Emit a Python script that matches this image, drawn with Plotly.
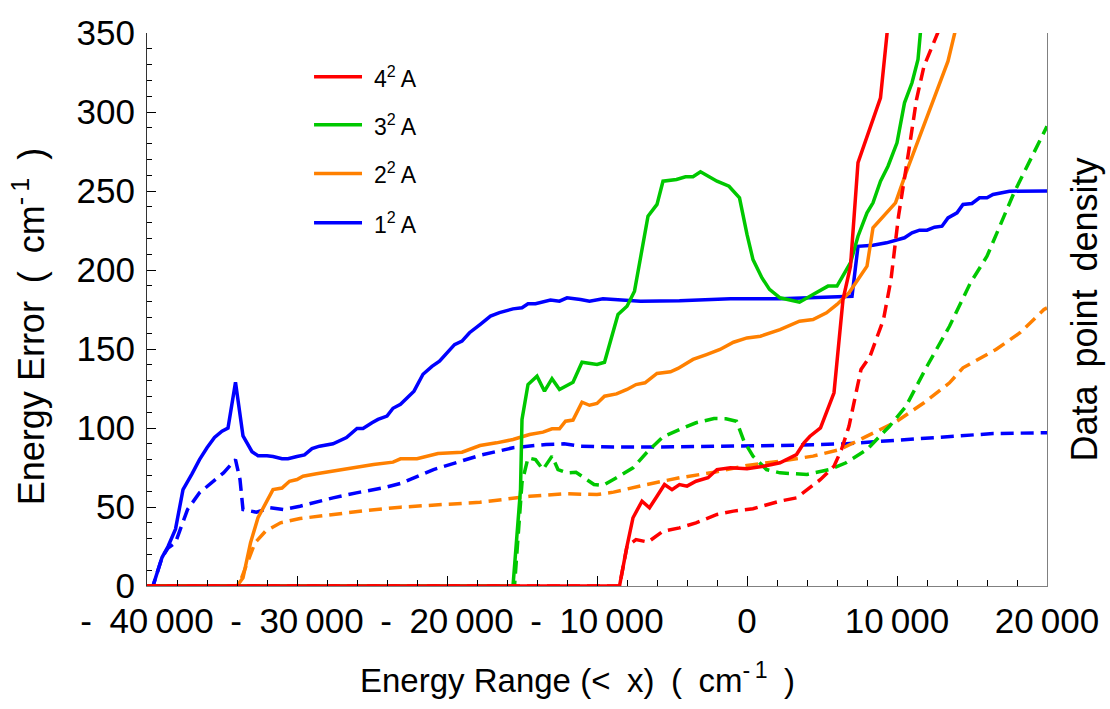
import plotly.graph_objects as go

# Energy error vs. cumulative energy range for the four 2A states.
# Solid lines: maximum error; dashed lines: mean error.

state_names = ["1<sup>2</sup> A", "2<sup>2</sup> A", "3<sup>2</sup> A", "4<sup>2</sup> A"]
state_colors = ["#0000FF", "#FF8000", "#00C800", "#FF0000"]

# 1 2A
s1_x = [-40000, -39600, -39000, -38600, -38100, -37600, -37000, -36500, -36000, -35500,
        -35000, -34600, -34100, -33600, -33000, -32600, -32000, -31600, -31000, -30600,
        -30000, -29500, -29000, -28500, -27600, -26700, -26000, -25600, -25000, -24600,
        -24000, -23600, -23100, -22800, -22200, -21600, -21000, -20500, -19900, -19500,
        -19000, -18500, -17800, -17100, -16500, -15600, -15000, -14600, -14100, -13100,
        -12500, -12000, -11100, -10500, -9600, -7100, -4500, -1100, 2200, 6200,
        7000, 7400, 8400, 9300, 10100, 10500, 11000, 11500, 12000, 12500,
        13000, 13400, 14000, 14400, 15000, 15500, 16000, 16400, 17500, 20000]
s1_max = [0, 0, 18, 25, 36, 61, 71, 80, 87.5, 94,
          98, 100, 129, 95, 85, 82.5, 82.5, 82, 80.5, 80.5,
          82, 83, 87, 88.5, 90, 94, 99.7, 99.7, 103.3, 105.4,
          107.5, 112.5, 115, 118, 123.3, 134, 139, 142.3, 148.6, 152.8,
          155, 160.3, 165.5, 170.8, 173, 175.4, 176.1, 178.6, 178.6, 181,
          180.3, 182.4, 181.3, 180.3, 181.8, 180.3, 180.5, 181.8, 181.8, 182.8,
          183.4, 215, 215.7, 217.2, 219.3, 220.4, 223.5, 225.2, 225.2, 227.1,
          227.7, 233, 236.2, 241.5, 242.1, 245.7, 245.7, 247.8, 249.9, 250]
s1_mean_x = [-40000, -39600, -39000, -38600, -38100, -37800, -37300, -36500, -35600, -34900,
             -34100, -33800, -33600, -32700, -31800, -30900, -29800, -27600, -25800, -24200,
             -23100, -20900, -17800, -15600, -13400, -12200, -11100, -8900, -6700, -4500,
             -2300, 2200, 6600, 10400, 13100, 16400, 20000]
s1_mean = [0, 0, 18, 24, 27.5, 35.8, 48.4, 59, 66.3, 71.6,
           80, 67.4, 48.4, 46.7, 49.5, 48.4, 50.5, 55.8, 59.4, 62.2,
           64.9, 73.7, 82.7, 87.5, 89.6, 90, 88.5, 87.9, 87.9, 88.1,
           88.5, 88.9, 90, 92.7, 94.4, 96.5, 97]

# 2 2A
s2_x = [-40000, -34000, -33600, -33100, -32600, -32100, -31600, -31000, -30500, -30000,
        -29600, -28700, -27600, -26500, -24900, -23600, -23100, -22000, -20600, -19000,
        -17800, -16700, -15600, -14500, -13600, -13000, -12500, -12100, -11600, -11000,
        -10500, -10000, -9500, -8700, -8000, -7400, -6800, -6000, -5100, -4600,
        -3600, -2700, -1800, -900, 0, 900, 2200, 3500, 4400, 5300,
        6000, 6800, 8000, 8400, 9900, 10600, 12000, 13400, 13900, 14200]
s2_max = [0, 0, 5.2, 27.3, 43.2, 52.7, 61, 62, 66.3, 67.4,
          69.5, 71, 72.7, 74.8, 76.9, 78.4, 80.5, 80.5, 83.9, 84.7,
          88.9, 90.6, 92.7, 95.9, 97.4, 99.5, 99.5, 104.3, 105, 116.3,
          114.4, 115.5, 120.1, 121.6, 124.4, 127.5, 128.6, 134.5, 135.6, 137.7,
          143.4, 146.5, 149.7, 154.3, 157, 158.1, 162.3, 167.6, 168.7, 172.9,
          178.2, 185.6, 202.4, 226.7, 242.5, 261.5, 297.4, 332.2, 352, 365]
s2_mean_x = [-40000, -33900, -33400, -32800, -32100, -31100, -29800, -27600, -25400, -23100,
             -20500, -17800, -14500, -12200, -10000, -8900, -6700, -4500, -2200, 0,
             2200, 4400, 6200, 8000, 10000, 11800, 13500, 14400, 16600, 18200,
             19800, 20000]
s2_mean = [0, 0, 12.5, 27.3, 34.7, 40, 42.7, 45.3, 47.8, 49.9,
           51.5, 53, 56.8, 58.4, 57.9, 59.4, 64.2, 68.5, 72, 76.3,
           79, 82.2, 86.4, 94.8, 104.3, 116, 128.6, 138.1, 149.7, 160.3,
           175, 176]

# 3 2A
s3_x = [-40000, -15600, -15100, -15000, -14600, -14000, -13500, -13000, -12500, -11600,
        -11000, -10000, -9500, -8600, -8000, -7500, -6600, -6000, -5600, -4700,
        -4100, -3600, -3100, -2000, -1200, -500, 0, 400, 1000, 1500,
        2200, 3500, 4400, 5400, 6000, 6400, 6900, 7400, 8000, 8400,
        8900, 9400, 10000, 10500, 11000, 11400, 11600, 11700]
s3_max = [0, 0, 61, 105.4, 127.5, 132.8, 123.3, 131.2, 124.4, 129,
          141.6, 140.2, 141.6, 171.8, 177.1, 186.6, 234, 241.5, 256.2, 257.3,
          259, 259, 262.2, 256.2, 253, 245.7, 222.5, 206.6, 195, 187.7,
          182.4, 179.6, 184.5, 189.8, 189.8, 196.1, 204.6, 221.4, 236.2, 242.5,
          256.2, 265.7, 280.5, 305.8, 318.5, 333.2, 352, 365]
s3_mean_x = [-40000, -15500, -15000, -14600, -14100, -13600, -13000, -12600, -12000, -11400,
             -10200, -9600, -8700, -7600, -6700, -5600, -4500, -3400, -2200, -1400,
             -700, -200, 400, 1300, 2200, 4000, 5500, 6600, 8000, 9500,
             10600, 12000, 13500, 14900, 16000, 17800, 20000]
s3_mean = [0, 0, 65.4, 81.1, 80, 73.7, 82.2, 73.7, 71.6, 72,
           64.2, 63.6, 68.5, 74.8, 84.3, 94.4, 99, 103.3, 106, 105.9,
           104.3, 91.6, 82.2, 73.7, 71.6, 70.6, 73.7, 78, 86.4, 101.1,
           113.8, 139.1, 164.4, 191.9, 208.7, 248.9, 291]

# 4 2A
s4_x = [-40000, -8500, -8000, -7600, -7000, -6500, -6000, -5500, -5000, -4500,
        -4000, -3400, -2600, -2000, -1100, 0, 1100, 2200, 3300, 3800,
        4200, 4900, 5800, 6100, 6400, 6900, 7400, 8900, 9400, 9500]
s4_max = [0, 0, 25.2, 43.2, 53.7, 49.5, 56.8, 64.2, 61, 64.2,
          63.2, 66.3, 68.5, 73.7, 74.8, 74.2, 75.8, 78, 83.2, 90.6,
          94.8, 100.1, 122.3, 151.7, 181.3, 202.4, 267.9, 309, 352, 365]
s4_mean_x = [-40000, -8500, -8000, -7400, -6600, -5600, -4500, -3400, -2000, -900,
             400, 2200, 3300, 4000, 4900, 5800, 6300, 6800, 7200, 7600,
             8200, 8600, 9100, 9600, 10100, 10800, 11300, 11800, 12800, 13000]
s4_mean = [0, 0, 25.2, 29.4, 27.8, 34.7, 36.8, 40, 45.3, 47.4,
           48.9, 53.7, 55.8, 61, 67.4, 75.8, 86.4, 101.1, 120.1, 137,
           145.4, 156, 168.7, 194, 234, 276.3, 307.9, 329, 352, 362]

x_tick_vals = [-40000, -30000, -20000, -10000, 0, 10000, 20000]
x_tick_text = ["-\u2002" + "40\u2009000", "-\u2002" + "30\u2009000", "-\u2002" + "20\u2009000",
               "-\u2002" + "10\u2009000", "0", "10\u2009000", "20\u2009000"]

x_title = "Energy Range (<\u2002x)\u2002(\u2002cm<sup>-\u20091</sup>\u2002)"
y_title = "Energy Error\u2002(\u2002cm<sup>-\u20091</sup>\u2002)"
y2_title = "Data\u2002point\u2002density"

series = [
    (s1_x, s1_max, s1_mean_x, s1_mean),
    (s2_x, s2_max, s2_mean_x, s2_mean),
    (s3_x, s3_max, s3_mean_x, s3_mean),
    (s4_x, s4_max, s4_mean_x, s4_mean),
]

FONT = "Liberation Sans, Arial, Helvetica, sans-serif"
LW = 3.5

fig = go.Figure()
for (mx, my, ax, ay), name, color in zip(series, state_names, state_colors):
    fig.add_trace(go.Scatter(x=mx, y=my, mode="lines", name=name,
                             line=dict(color=color, width=LW), showlegend=False))
    fig.add_trace(go.Scatter(x=ax, y=ay, mode="lines", name=name + " (mean)",
                             line=dict(color=color, width=LW, dash="13px,7px"),
                             showlegend=False))

# right-hand axis carrying the density label
fig.add_trace(go.Scatter(x=[], y=[], yaxis="y2", showlegend=False, hoverinfo="skip"))

# legend drawn as short line samples with labels, top to bottom: 4, 3, 2, 1
legend_order = [3, 2, 1, 0]
legend_y = [0.921, 0.834, 0.746, 0.657]
for ly, idx in zip(legend_y, legend_order):
    fig.add_shape(type="line", xref="paper", yref="paper",
                  x0=0.1856, x1=0.2389, y0=ly, y1=ly,
                  line=dict(color=state_colors[idx], width=LW))
    fig.add_annotation(xref="paper", yref="paper", x=0.25, y=ly,
                       xanchor="left", yanchor="middle", showarrow=False,
                       text=state_names[idx],
                       font=dict(family=FONT, size=23, color="black"))

# axis titles
fig.add_annotation(xref="paper", yref="paper", x=0.478, y=-0.166,
                   xanchor="center", yanchor="middle", showarrow=False,
                   text=x_title, font=dict(family=FONT, size=33, color="black"))
fig.add_annotation(xref="paper", yref="paper", x=-0.131, y=0.47,
                   xanchor="center", yanchor="middle", showarrow=False, textangle=-90,
                   text=y_title, font=dict(family=FONT, size=36, color="black"))

fig.update_layout(
    width=1110, height=709,
    margin=dict(l=147, r=63, t=33, b=123),
    paper_bgcolor="white", plot_bgcolor="white",
    font=dict(family=FONT, color="black"),
    showlegend=False,
    xaxis=dict(
        range=[-40000, 20000],
        tickmode="array", tickvals=x_tick_vals, ticktext=x_tick_text,
        ticks="inside", ticklen=10, tickwidth=1, tickcolor="black",
        minor=dict(dtick=2000, ticks="inside", ticklen=6, tickcolor="black"),
        showline=True, linecolor="#808080", linewidth=1,
        showgrid=False, zeroline=False,
        tickfont=dict(family=FONT, size=35, color="black"),
        ticklabelstandoff=4,
    ),
    yaxis=dict(
        range=[0, 350], dtick=50,
        ticks="inside", ticklen=9, tickwidth=1, tickcolor="black",
        minor=dict(dtick=10, ticks="inside", ticklen=5, tickcolor="black"),
        showline=True, linecolor="#333333", linewidth=1,
        showgrid=False, zeroline=False,
        tickfont=dict(family=FONT, size=35, color="black"),
        ticklabelstandoff=4,
    ),
    yaxis2=dict(
        overlaying="y", side="right", anchor="x", range=[0, 1],
        showline=True, linecolor="#808080", linewidth=1,
        ticks="", showticklabels=False, showgrid=False, zeroline=False,
        title=dict(text=y2_title,
                   font=dict(family=FONT, size=36, color="black"), standoff=24),
    ),
)

fig.write_html("out.html")
